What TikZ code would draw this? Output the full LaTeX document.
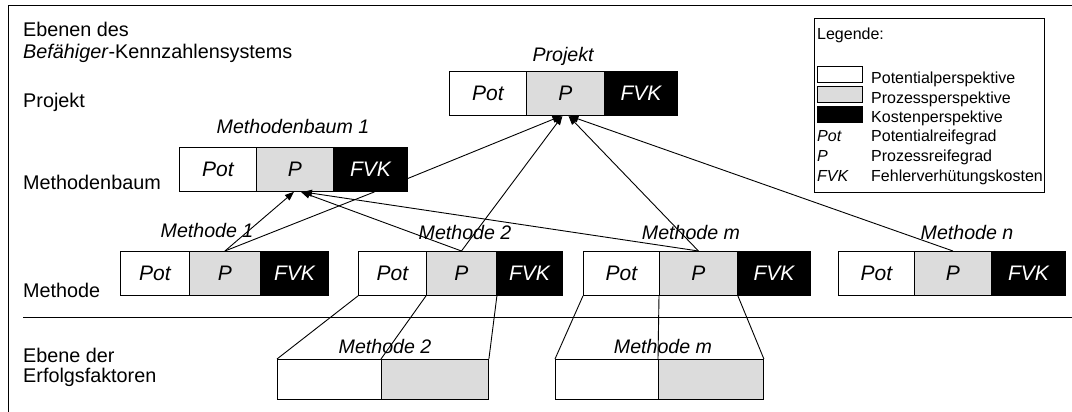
\documentclass[tikz,border=0pt]{standalone}
\usepackage{fontspec}
\setmainfont{Liberation Sans}
\usetikzlibrary{arrows.meta,calc}
\definecolor{cellgray}{RGB}{220,220,220}

\tikzset{
  frame/.style={line width=1pt},
  cell/.style={draw, line width=0.9pt, minimum height=44pt, inner sep=0pt,
    anchor=north west, font=\fontsize{21}{21}\selectfont\itshape},
  potcell/.style={cell, fill=white},
  pcell/.style={cell, fill=cellgray},
  fcell/.style={cell, fill=black, text=white},
  sidelabel/.style={inner sep=0pt, anchor=base west, font=\fontsize{19.8}{19.8}\selectfont},
  boxlabel/.style={inner sep=0pt, anchor=base, font=\fontsize{19.6}{19.6}\selectfont\itshape},
  legtext/.style={inner sep=0pt, anchor=base west, font=\fontsize{16}{16}\selectfont},
  legabbr/.style={legtext, font=\fontsize{16}{16}\selectfont\itshape},
  swatch/.style={draw, line width=0.8pt, minimum width=45pt, minimum height=16pt,
    inner sep=0pt, anchor=north west},
  link/.style={line width=0.9pt},
  arr/.style={link, -{Triangle[length=9pt,width=7pt]}},
}

% three-cell indicator box: prefix, x0, x1, x2, x3, top
\newcommand\triplebox[6]{%
  \node[potcell, minimum width={#3-#2}] (#1-o) at (#2,#6) {Pot};
  \node[pcell, minimum width={#4-#3}] (#1-p) at (#3,#6) {P};
  \node[fcell, minimum width={#5-#4}] (#1-f) at (#4,#6) {FVK};
}

\begin{document}
\begin{tikzpicture}[x=1pt,y=-1pt]
\useasboundingbox (0,0) rectangle (1072,412);

% outer frame (open to the right and bottom)
\coordinate (fbl) at (8,412);
\coordinate (ftl) at (8,6);
\coordinate (ftr) at (1072,6);
\draw[frame] (fbl) -- (ftl) -- (ftr);

% level separator
\coordinate (sepl) at (23,317);
\coordinate (sepr) at (1072,317);
\draw[line width=0.9pt] (sepl) -- (sepr);

% level names
\node[sidelabel] (lev0a) at (23,37) {Ebenen des};
\node[sidelabel] (lev0b) at (23,59) {\textit{Befähiger}-Kennzahlensystems};
\node[sidelabel] (lev1) at (23,108) {Projekt};
\node[sidelabel] (lev2) at (23,189) {Methodenbaum};
\node[sidelabel] (lev3) at (23,297) {Methode};
\node[sidelabel] (lev4a) at (23,362) {Ebene der};
\node[sidelabel] (lev4b) at (23,382) {Erfolgsfaktoren};

% indicator boxes
\triplebox{pr}{449}{526}{604}{677}{71}
\triplebox{mb}{179}{256}{333}{407}{147}
\triplebox{m1}{120}{189}{260}{328}{251}
\triplebox{m2}{358}{426}{496}{562}{251}
\triplebox{mm}{583}{659}{737}{810}{251}
\triplebox{mn}{838}{914}{991}{1065}{251}

% success factor boxes
\node[potcell, minimum width=104, minimum height=40] (e2-o) at (277,359) {};
\node[pcell, minimum width=107, minimum height=40] (e2-p) at (381,359) {};
\node[potcell, minimum width=103, minimum height=40] (em-o) at (555,359) {};
\node[pcell, minimum width=105, minimum height=40] (em-p) at (658,359) {};

% box titles
\node[boxlabel] (t-pr) at (563,62) {Projekt};
\node[boxlabel] (t-mb) at (293,133) {Methodenbaum 1};
\node[boxlabel] (t-m1) at (207,237) {Methode 1};
\node[boxlabel] (t-m2) at (465,239) {Methode 2};
\node[boxlabel] (t-mm) at (691,239) {Methode m};
\node[boxlabel] (t-mn) at (967,239) {Methode n};

% aggregation into the method tree
\draw[arr] (m1-p.north) -- ($(mb-p.south)+(-1,0)$);
\draw[link] (m1-p.north) -- ($(mb-f.south)+(4,0)$);
\draw[arr] (m2-p.north) -- ($(mb-p.south)+(6,0)$);
\draw[arr] (mm-p.north) -- ($(mb-p.south)+(8,0)$);

% aggregation into the project
\draw[arr] ($(mb-f.east)+(0,9)$) -- ($(pr-p.south)+(-4,0)$);
\draw[arr] (m2-p.north) -- ($(pr-p.south)+(-3,0)$);
\draw[arr] (mm-p.north) -- ($(pr-p.south)+(3,0)$);
\draw[arr] (mn-p.north) -- ($(pr-p.south)+(4,0)$);

% zoom onto the success factors
\draw[link] (m2-o.south west) -- (e2-o.north west);
\draw[link] (m2-p.south west) -- (e2-p.north west);
\draw[link] (m2-p.south east) -- (e2-p.north east);
\draw[link] (mm-o.south west) -- (em-o.north west);
\draw[link] (mm-p.south west) -- (em-p.north west);
\draw[link] (mm-p.south east) -- (em-p.north east);

\node[boxlabel] (t-e2) at (385,353) {Methode 2};
\node[boxlabel] (t-em) at (663,353) {Methode m};

% legend
\node[draw, line width=0.9pt, minimum width=230, minimum height=174, inner sep=0pt,
  anchor=north west] (legend) at (814,18) {};
\node[legtext] (lg-title) at (817,40) {Legende:};
\node[swatch, fill=white] (sw-o) at (817,66) {};
\node[swatch, fill=cellgray] (sw-p) at (817,86) {};
\node[swatch, fill=black] (sw-f) at (817,106) {};
\node[legtext] (lg-o) at (871,84) {Potentialperspektive};
\node[legtext] (lg-p) at (871,103) {Prozessperspektive};
\node[legtext] (lg-f) at (871,123) {Kostenperspektive};
\node[legabbr] (ab-o) at (817,141) {Pot};
\node[legabbr] (ab-p) at (817,161) {P};
\node[legabbr] (ab-f) at (817,181) {FVK};
\node[legtext] (lg-ro) at (871,141) {Potentialreifegrad};
\node[legtext] (lg-rp) at (871,161) {Prozessreifegrad};
\node[legtext] (lg-rf) at (871,181) {Fehlerverhütungskosten};
\end{tikzpicture}
\end{document}
